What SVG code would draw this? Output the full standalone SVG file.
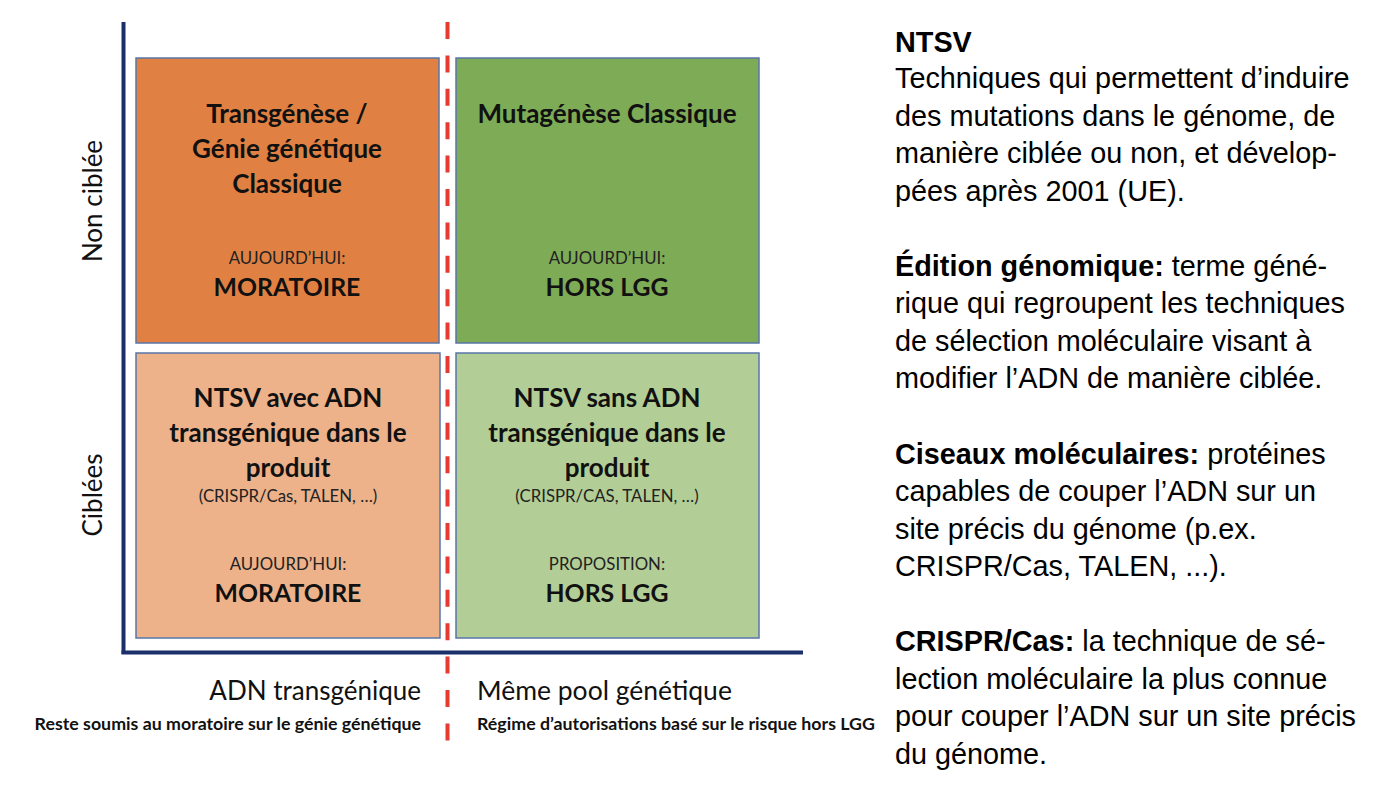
<svg xmlns="http://www.w3.org/2000/svg" width="1380" height="786" viewBox="0 0 1380 786">
<style>
.q{stroke:#5a75a8;stroke-width:1.5}
.cb{font-family:Lato,"Open Sans",sans-serif;font-weight:bold;font-size:26px;fill:#111;text-anchor:middle}
.cm{font-family:Lato,"Open Sans",sans-serif;font-weight:bold;font-size:24.8px;fill:#111;text-anchor:middle}
.cs{font-family:Lato,"Open Sans",sans-serif;font-size:16.8px;fill:#222;text-anchor:middle}
.cp{font-family:Lato,"Open Sans",sans-serif;font-size:16.8px;fill:#222;text-anchor:middle}
.ax{font-family:Lato,"Open Sans",sans-serif;font-size:26px;fill:#111}
.axb{font-family:Lato,"Open Sans",sans-serif;font-weight:bold;font-size:17.8px;fill:#111}
.r{font-family:"Liberation Sans",Arial,sans-serif;font-size:28.8px;fill:#000}
.r tspan.b{font-weight:bold}
</style>
<rect width="1380" height="786" fill="#fff"/>
<g id="axes">
<line x1="123.5" y1="22" x2="123.5" y2="654" stroke="#1b2f6b" stroke-width="4"/>
<line x1="121.5" y1="652.5" x2="803" y2="652.5" stroke="#1b2f6b" stroke-width="4"/>
<line x1="447.5" y1="22" x2="447.5" y2="745" stroke="#e83a30" stroke-width="4" stroke-dasharray="17,16.4"/>
</g>
<g id="q-tl">
<rect class="q" x="136" y="58" width="303" height="285" fill="#e08143"/>
<text class="cb" x="287" y="123">Transgénèse /</text>
<text class="cb" x="287" y="158">Génie génétique</text>
<text class="cb" x="287" y="192.5">Classique</text>
<text class="cs" x="287" y="264">AUJOURD’HUI:</text>
<text class="cm" x="287" y="296">MORATOIRE</text>
</g>
<g id="q-tr">
<rect class="q" x="456" y="58" width="303" height="285" fill="#7eab55"/>
<text class="cb" x="607" y="123">Mutagénèse Classique</text>
<text class="cs" x="607" y="264">AUJOURD’HUI:</text>
<text class="cm" x="607" y="296">HORS LGG</text>
</g>
<g id="q-bl">
<rect class="q" x="136" y="353" width="304" height="285" fill="#edb28a"/>
<text class="cb" x="288" y="406.5">NTSV avec ADN</text>
<text class="cb" x="288" y="441.5">transgénique dans le</text>
<text class="cb" x="288" y="476.5">produit</text>
<text class="cp" x="288" y="501.5">(CRISPR/Cas, TALEN, …)</text>
<text class="cs" x="288" y="570">AUJOURD’HUI:</text>
<text class="cm" x="288" y="601.5">MORATOIRE</text>
</g>
<g id="q-br">
<rect class="q" x="456" y="353" width="303" height="285" fill="#b2ce96"/>
<text class="cb" x="607" y="406.5">NTSV sans ADN</text>
<text class="cb" x="607" y="441.5">transgénique dans le</text>
<text class="cb" x="607" y="476.5">produit</text>
<text class="cp" x="607" y="501.5">(CRISPR/CAS, TALEN, …)</text>
<text class="cs" x="607" y="570">PROPOSITION:</text>
<text class="cm" x="607" y="601.5">HORS LGG</text>
</g>
<g id="axis-labels">
<text class="ax" text-anchor="middle" transform="translate(102,201) rotate(-90)">Non ciblée</text>
<text class="ax" text-anchor="middle" transform="translate(102,495) rotate(-90)">Ciblées</text>
<text class="ax" text-anchor="end" x="421" y="700">ADN transgénique</text>
<text class="axb" text-anchor="end" x="421" y="730">Reste soumis au moratoire sur le génie génétique</text>
<text class="ax" x="477" y="700" style="font-size:26.5px">Même pool génétique</text>
<text class="axb" x="477" y="730">Régime d’autorisations basé sur le risque hors LGG</text>
</g>
<g id="definitions">
<text class="r" x="895" y="51.5"><tspan class="b">NTSV</tspan></text>
<text class="r" x="895" y="88">Techniques qui permettent d’induire</text>
<text class="r" x="895" y="125.6">des mutations dans le génome, de</text>
<text class="r" x="895" y="163.1">manière ciblée ou non, et dévelop-</text>
<text class="r" x="895" y="200.7">pées après 2001 (UE).</text>
<text class="r" x="895" y="275.8"><tspan class="b">Édition génomique:</tspan> terme géné-</text>
<text class="r" x="895" y="313.3">rique qui regroupent les techniques</text>
<text class="r" x="895" y="350.9">de sélection moléculaire visant à</text>
<text class="r" x="895" y="388.4">modifier l’ADN de manière ciblée.</text>
<text class="r" x="895" y="463.5"><tspan class="b">Ciseaux moléculaires:</tspan> protéines</text>
<text class="r" x="895" y="501.1">capables de couper l’ADN sur un</text>
<text class="r" x="895" y="538.6">site précis du génome (p.ex.</text>
<text class="r" x="895" y="576.2">CRISPR/Cas, TALEN, ...).</text>
<text class="r" x="895" y="651.3"><tspan class="b">CRISPR/Cas:</tspan> la technique de sé-</text>
<text class="r" x="895" y="688.8">lection moléculaire la plus connue</text>
<text class="r" x="895" y="726.4">pour couper l’ADN sur un site précis</text>
<text class="r" x="895" y="763.9">du génome.</text>
</g>
</svg>
